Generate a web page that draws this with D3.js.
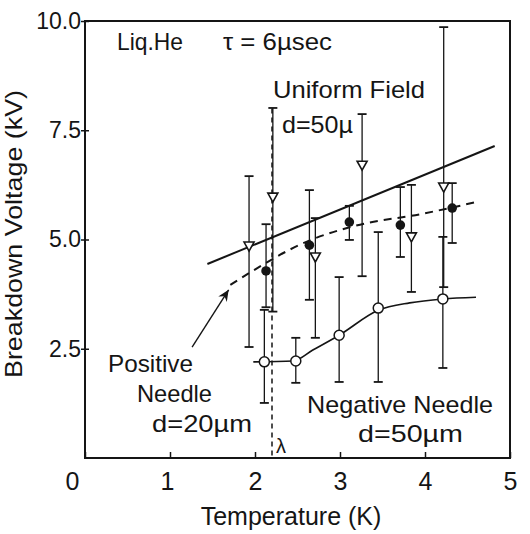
<!DOCTYPE html>
<html>
<head>
<meta charset="utf-8">
<script src="https://cdn.jsdelivr.net/npm/d3@7"></script>
<style>
  body { margin: 0; background: #fff; }
  svg text { font-family: "Liberation Sans", Arial, sans-serif; fill: #151515; }
</style>
</head>
<body>
<div id="chart"></div>
<script>
// Uniform field d=50u (open down triangles)
const uniformT = [1.93, 2.21, 2.71, 3.26, 3.84, 4.22];
const uniformV = [4.85, 5.97, 4.6, 6.7, 5.06, 6.2];
const uniformHi = [6.45, 8.01, 5.49, 7.87, 6.25, 9.86];
const uniformLo = [2.54, 3.35, 2.75, 4.16, 3.8, 3.91];
// Positive needle d=20um (filled circles)
const posT = [2.13, 2.64, 3.11, 3.71, 4.32];
const posV = [4.28, 4.87, 5.4, 5.33, 5.72];
const posHi = [5.35, 6.13, 5.77, 6.2, 6.29];
const posLo = [3.45, 3.62, 4.99, 4.6, 4.92];
// Negative needle d=50um (open circles)
const negT = [2.11, 2.48, 2.99, 3.45, 4.21];
const negV = [2.2, 2.22, 2.81, 3.43, 3.64];
const negHi = [3.39, 2.75, 4.14, 5.17, 5.06];
const negLo = [1.26, 1.72, 1.74, 1.74, 2.06];
// drawn curves
const uniformFitT = [1.44, 4.82];
const uniformFitV = [4.44, 7.14];
const posFitT = [1.71, 2.67, 3.15, 4.0, 4.61];
const posFitV = [3.96, 5.0, 5.3, 5.6, 5.86];
const negFitT = [1.98, 2.45, 2.68, 2.99, 3.45, 3.82, 4.21, 4.6];
const negFitV = [2.2, 2.22, 2.47, 2.81, 3.38, 3.55, 3.64, 3.68];
const lambdaT = 2.2;
const lambdaTop = 8.0;
// ticks
const xTicks = [0, 1, 2, 3, 4, 5];
const yTicks = [2.5, 5, 7.5, 10];

const w = 530;
const h = 534;
const svg = d3.select("#chart").append("svg").attr("width", w).attr("height", h);

const x = d3.scaleLinear().domain([0, 5]).range([85, 510]);
const y = d3.scaleLinear().domain([0, 10]).range([458, 21]);
const ink = "#151515";

svg.append("defs").append("marker")
  .attr("id", "arr")
  .attr("viewBox", "0 0 10 10")
  .attr("refX", 9).attr("refY", 5)
  .attr("markerWidth", 9).attr("markerHeight", 9)
  .attr("orient", "auto")
  .append("path")
  .attr("d", "M0,1 L9,5 L0,9 L3,5 Z")
  .attr("fill", ink);

// frame
svg.append("rect")
  .attr("x", x(0)).attr("y", y(10))
  .attr("width", x(5) - x(0)).attr("height", y(0) - y(10))
  .attr("fill", "none").attr("stroke", ink).attr("stroke-width", 2);

// axes
const xAxis = svg.append("g")
  .attr("transform", "translate(0," + y(0) + ")")
  .call(d3.axisBottom(x).tickValues(xTicks).tickFormat(d3.format("d")).tickSize(-6).tickSizeOuter(0).tickPadding(14));
xAxis.select(".domain").remove();
xAxis.selectAll("line").attr("stroke", ink).attr("stroke-width", 1.5);
xAxis.selectAll("text").attr("font-size", 25).style("font-family", "Liberation Sans")
  .attr("dx", (d) => (d === 0 ? -13 : d === 1 ? -3 : 0));

const yAxis = svg.append("g")
  .attr("transform", "translate(" + x(0) + ",0)")
  .call(d3.axisLeft(y).tickValues(yTicks).tickFormat(d3.format(".1f")).tickSize(4).tickSizeOuter(0).tickPadding(0));
yAxis.select(".domain").remove();
yAxis.selectAll("line").attr("stroke", ink).attr("stroke-width", 1.5).attr("x2", 4).attr("x1", -4);
yAxis.selectAll("text").attr("font-size", 23).attr("x", -4);

// axis titles
svg.append("text")
  .attr("x", 291).attr("y", 525)
  .attr("text-anchor", "middle").attr("font-size", 25)
  .text("Temperature (K)");
svg.append("text")
  .attr("transform", "translate(22,234) rotate(-90)")
  .attr("text-anchor", "middle").attr("font-size", 24)
  .attr("textLength", 288).attr("lengthAdjust", "spacingAndGlyphs")
  .text("Breakdown Voltage (kV)");

// lambda line
svg.append("line")
  .attr("x1", x(lambdaT)).attr("x2", x(lambdaT))
  .attr("y1", y(lambdaTop)).attr("y2", y(0))
  .attr("stroke", ink).attr("stroke-width", 1.5).attr("stroke-dasharray", "5,4");

// fitted curves
const toPts = (ts, vs) => ts.map((t, i) => [x(t), y(vs[i])]);
const line = d3.line().curve(d3.curveMonotoneX);
svg.append("path").attr("d", line(toPts(uniformFitT, uniformFitV)))
  .attr("fill", "none").attr("stroke", ink).attr("stroke-width", 2);
svg.append("path").attr("d", line(toPts(posFitT, posFitV)))
  .attr("fill", "none").attr("stroke", ink).attr("stroke-width", 2)
  .attr("stroke-dasharray", "8,6");
svg.append("path").attr("d", line(toPts(negFitT, negFitV)))
  .attr("fill", "none").attr("stroke", ink).attr("stroke-width", 1.6);

// error bars
function errorBars(ts, hi, lo) {
  const g = svg.append("g").attr("stroke", ink);
  ts.forEach((t, i) => {
    g.append("line").attr("x1", x(t)).attr("x2", x(t))
      .attr("y1", y(hi[i])).attr("y2", y(lo[i])).attr("stroke-width", 1.3);
    [hi[i], lo[i]].forEach((v) => {
      g.append("line").attr("x1", x(t) - 4.5).attr("x2", x(t) + 4.5)
        .attr("y1", y(v)).attr("y2", y(v)).attr("stroke-width", 1.8);
    });
  });
}
errorBars(uniformT, uniformHi, uniformLo);
errorBars(posT, posHi, posLo);
errorBars(negT, negHi, negLo);

// markers
svg.selectAll(".tri")
  .data(uniformT)
  .enter()
  .append("path")
  .attr("class", "tri")
  .attr("d", (d, i) => {
    const cx = x(d), cy = y(uniformV[i]);
    return "M" + (cx - 5) + "," + (cy - 4) + "L" + (cx + 5) + "," + (cy - 4) + "L" + cx + "," + (cy + 5) + "Z";
  })
  .attr("fill", "#fff").attr("stroke", ink).attr("stroke-width", 1.6);

svg.selectAll(".pos")
  .data(posT)
  .enter()
  .append("circle")
  .attr("class", "pos")
  .attr("cx", (d) => x(d))
  .attr("cy", (d, i) => y(posV[i]))
  .attr("r", 4.8)
  .attr("fill", ink);

svg.selectAll(".neg")
  .data(negT)
  .enter()
  .append("circle")
  .attr("class", "neg")
  .attr("cx", (d) => x(d))
  .attr("cy", (d, i) => y(negV[i]))
  .attr("r", 5)
  .attr("fill", "#fff").attr("stroke", ink).attr("stroke-width", 1.5);

// arrow to the positive needle curve
svg.append("line")
  .attr("x1", x(1.26)).attr("y1", y(2.54))
  .attr("x2", x(1.69)).attr("y2", y(3.85))
  .attr("stroke", ink).attr("stroke-width", 1.4)
  .attr("marker-end", "url(#arr)");

// annotations
const notes = [
  ["Liq.He", 117, 50, 66],
  ["\u03c4 = 6\u00b5sec", 223, 50, 109],
  ["Uniform Field", 273, 98, 152],
  ["d=50\u00b5", 282, 133, 71],
  ["Positive", 108, 372, 85],
  ["Needle", 137, 402, 75],
  ["d=20\u00b5m", 152, 432, 100],
  ["Negative Needle", 307, 413, 186],
  ["d=50\u00b5m", 358, 442, 105],
];
notes.forEach((n) => {
  svg.append("text")
    .attr("x", n[1]).attr("y", n[2])
    .attr("font-size", 24)
    .attr("textLength", n[3]).attr("lengthAdjust", "spacingAndGlyphs")
    .text(n[0]);
});
svg.append("text")
  .attr("x", 276).attr("y", 453)
  .attr("font-size", 20)
  .text("\u03bb");
</script>
</body>
</html>
